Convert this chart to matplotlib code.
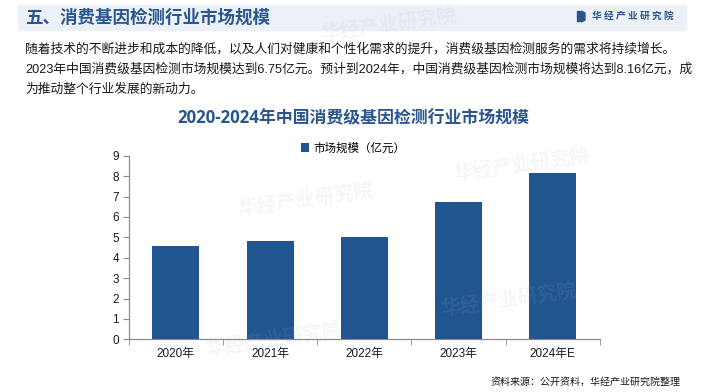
import matplotlib
matplotlib.use("Agg")
import matplotlib.pyplot as plt
import matplotlib.patches as patches

plt.rcParams['font.family'] = ['Liberation Sans', 'Noto Sans CJK SC', 'DejaVu Sans']

# --- данные ---
years = ["2020年", "2021年", "2022年", "2023年", "2024年E"]
market_size = [4.57, 4.83, 5.01, 6.75, 8.16]
y_ticks = [0, 1, 2, 3, 4, 5, 6, 7, 8, 9]

header_title = "五、消费基因检测行业市场规模"
body_lines = [
    "随着技术的不断进步和成本的降低，以及人们对健康和个性化需求的提升，消费级基因检测服务的需求将持续增长。",
    "2023年中国消费级基因检测市场规模达到6.75亿元。预计到2024年，中国消费级基因检测市场规模将达到8.16亿元，成",
    "为推动整个行业发展的新动力。",
]
chart_title = "2020-2024年中国消费级基因检测行业市场规模"
legend_label = "市场规模（亿元）"
source_note = "资料来源：公开资料，华经产业研究院整理"
brand = "华 经 产 业 研 究 院"

BLUE = "#215592"
DARK = "#2a568f"
CJK = ['Noto Sans CJK SC', 'DejaVu Sans']
MIX = ['Liberation Sans', 'Noto Sans CJK SC', 'DejaVu Sans']

fig = plt.figure(figsize=(7.04, 3.92), dpi=100)
W, H = 704, 392

def fx(px):
    return px / W

def fy(py):
    return 1 - py / H

# --- шапка ---
band = patches.Rectangle((fx(18), fy(30)), fx(686) - fx(18), fy(5) - fy(30),
                         transform=fig.transFigure, color="#ecf1f8", zorder=0)
fig.patches.append(band)
fig.text(fx(25), fy(17.5), header_title, family=CJK, fontsize=12.6, fontweight="bold",
         color=DARK, va="center", ha="left")

# маленький логотип
fig.patches.append(patches.Rectangle((fx(577), fy(21)), fx(3), 10 / H,
                                     transform=fig.transFigure, color=DARK))
fig.patches.append(patches.Polygon([(fx(581.5), fy(11)), (fx(585), fy(13)), (fx(585), fy(20)),
                                    (fx(581.5), fy(22))], closed=True,
                                   transform=fig.transFigure, color=DARK))
fig.text(fx(592), fy(16), brand, family=CJK, fontsize=7, fontweight="bold",
         color=DARK, va="center", ha="left")

# --- водяные знаки (бледные) ---
for (wx, wy, rot) in [(237, 200, 8), (453, 165, 8), (320, 25, 8), (440, 300, 8),
                      (205, 340, 8)]:
    fig.text(fx(wx), fy(wy), "华经产业研究院", family=CJK, fontsize=14, fontweight="bold",
             color="#9fb3cc", alpha=0.12, rotation=rot, va="center", ha="left", zorder=0)

# --- текст ---
for i, line in enumerate(body_lines):
    fig.text(fx(25), fy(49 + i * 20.5), line, family=MIX, fontsize=9.2,
             color="#1a1a1a", va="center", ha="left")

fig.text(fx(353), fy(118), chart_title, family=['Open Sans', 'Noto Sans CJK SC', 'DejaVu Sans'],
         fontsize=12.2, fontweight="bold", color=DARK, va="center", ha="center")

# --- график ---
ax = fig.add_axes([fx(128.7), fy(339.3), fx(600) - fx(128.7), fy(155.7) - fy(339.3)])
x = range(len(years))
bars = ax.bar(x, market_size, width=0.5, color=BLUE, label=legend_label, zorder=3)

ax.set_xlim(-0.5, len(years) - 0.5)
ax.set_ylim(0, 9)
ax.set_yticks(y_ticks)
ax.set_xticks(list(x))
ax.set_xticklabels(years, family=MIX, fontsize=8.5, color="#1a1a1a")
ax.set_xticks([i - 0.5 for i in range(len(years) + 1)], minor=True)
ax.tick_params(axis="x", which="major", length=0, pad=6)
ax.tick_params(axis="x", which="minor", length=4, color="#8c8c8c", direction="out")
ax.tick_params(axis="y", length=4, color="#8c8c8c", labelsize=8.5, labelcolor="#1a1a1a", pad=3)
for lbl in ax.get_yticklabels():
    lbl.set_family(MIX)

for side in ["top", "right"]:
    ax.spines[side].set_visible(False)
for side in ["left", "bottom"]:
    ax.spines[side].set_color("#8c8c8c")
    ax.spines[side].set_linewidth(0.9)
ax.patch.set_alpha(0)

leg = ax.legend(loc="center", bbox_to_anchor=(fx(353), fy(148)), bbox_transform=fig.transFigure,
                frameon=False, handlelength=0.7, handleheight=0.7, handletextpad=0.4,
                prop={"family": CJK, "size": 8.3})

fig.text(fx(681), fy(382), source_note, family=CJK, fontsize=7.2, color="#1a1a1a",
         va="center", ha="right")

fig.savefig("out.png", dpi=100)
